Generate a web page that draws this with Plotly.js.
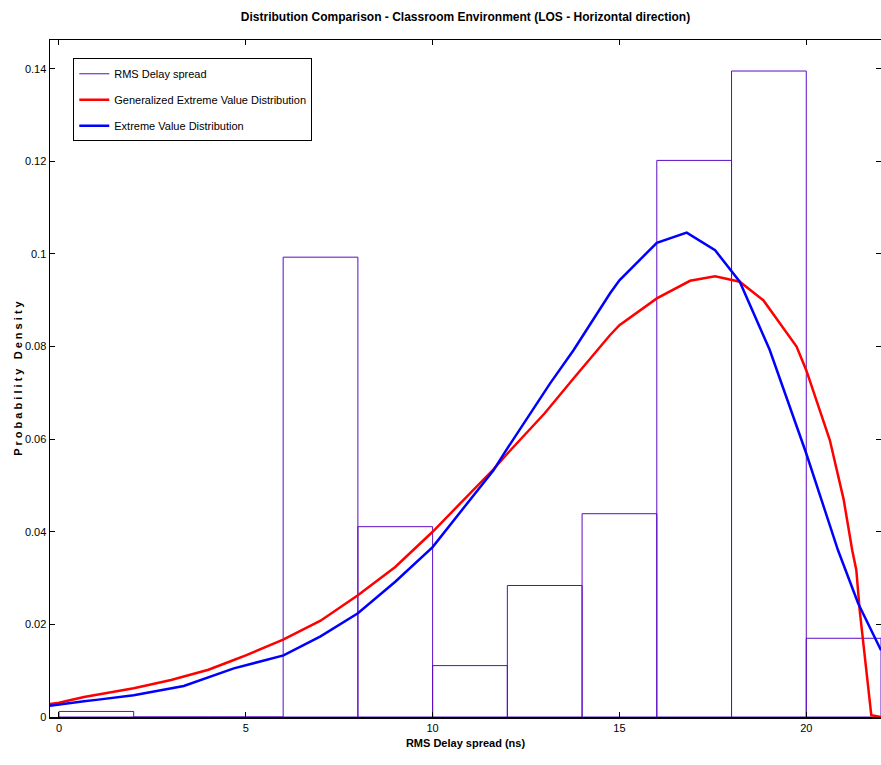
<!DOCTYPE html>
<html>
<head>
<meta charset="utf-8">
<script src="https://cdn.plot.ly/plotly-3.0.1.min.js"></script>
<style>html,body{margin:0;padding:0;background:#fff;}#chart{width:881px;height:765px;}</style>
</head>
<body>
<div id="chart"></div>
<script>
// Histogram bins (centres) and densities
const binCenters = [1, 3, 5, 7, 9, 11, 13, 15, 17, 19, 21];
const binDensity = [0.0012, 0, 0, 0.0993, 0.0411, 0.0111, 0.0284, 0.0439, 0.1202, 0.1395, 0.0170];

// Generalized Extreme Value fit
const gevX = [-0.25, 0, 0.67, 1, 2, 3, 3.34, 4, 4.68, 5, 6, 6.46, 7, 8, 9, 10, 11, 11.63, 12.07, 12.61, 13, 13.77, 14.75, 15, 16, 16.89, 17.56, 18.22, 18.85, 19.74, 20, 20.63, 21, 21.23, 21.34, 21.43, 21.74, 22];
const gevY = [0.0028, 0.0031, 0.0043, 0.0048, 0.0062, 0.0080, 0.0087, 0.0102, 0.0123, 0.0133, 0.0167, 0.0186, 0.0208, 0.0263, 0.0324, 0.0400, 0.0482, 0.0535, 0.0575, 0.0623, 0.0656, 0.0731, 0.0825, 0.0846, 0.0904, 0.0942, 0.0952, 0.0940, 0.0900, 0.0800, 0.0749, 0.0598, 0.0470, 0.0360, 0.0317, 0.0230, 0.0004, 0.0];

// Extreme Value fit
const evX = [-0.25, 0, 0.67, 1, 2, 3.34, 4, 4.68, 6.01, 6.46, 7, 8, 9, 10, 11, 11.63, 12, 12.61, 13.14, 13.77, 14.75, 15, 16, 16.8, 17.56, 18.22, 19.02, 20, 20.85, 21.39, 22];
const evY = [0.0024, 0.0027, 0.0034, 0.0037, 0.0047, 0.0067, 0.0085, 0.0105, 0.0133, 0.0151, 0.0174, 0.0224, 0.0292, 0.0367, 0.0468, 0.0533, 0.0580, 0.0654, 0.0720, 0.0792, 0.0915, 0.0943, 0.1024, 0.1046, 0.1008, 0.0940, 0.0793, 0.0569, 0.0360, 0.0245, 0.0144];

const xTicks = [0, 5, 10, 15, 20];
const yTicks = [0, 0.02, 0.04, 0.06, 0.08, 0.1, 0.12, 0.14];
const yTickText = ['0', '0.02', '0.04', '0.06', '0.08', '0.1', '0.12', '0.14'];

const FONT = 'Liberation Sans Narrow, Arial Narrow, Liberation Sans, Arial, sans-serif';
const PURPLE = 'rgb(92,12,196)';

const traces = [
  {
    type: 'bar', x: binCenters, y: binDensity, width: 2,
    marker: {color: 'rgba(255,255,255,0)', line: {color: PURPLE, width: 1}},
    showlegend: false, hoverinfo: 'skip'
  },
  {
    type: 'scatter', mode: 'lines', x: [null], y: [null], legendgroup: 'a',
    name: 'RMS Delay spread', line: {color: PURPLE, width: 1}
  },
  {
    type: 'scatter', mode: 'lines', x: gevX, y: gevY, legendgroup: 'b',
    name: 'Generalized Extreme Value Distribution', line: {color: 'rgb(255,0,0)', width: 2.5}
  },
  {
    type: 'scatter', mode: 'lines', x: evX, y: evY, legendgroup: 'c',
    name: 'Extreme Value Distribution', line: {color: 'rgb(0,0,255)', width: 2.5}
  }
];

const layout = {
  width: 881, height: 765,
  margin: {l: 50, r: 0, t: 40, b: 48},
  paper_bgcolor: '#fff', plot_bgcolor: '#fff',
  font: {family: FONT, size: 11, color: '#000'},
  title: {text: '<b>Distribution Comparison - Classroom Environment (LOS - Horizontal direction)</b>',
          x: 0.5, xref: 'paper', y: 0.978, yref: 'container', yanchor: 'middle',
          font: {family: FONT, size: 12, color: '#000'}},
  bargap: 0,
  xaxis: {
    range: [-0.24, 22], tickvals: xTicks, ticks: 'inside', ticklen: 5, tickcolor: '#000',
    showline: true, linecolor: '#000', linewidth: 1.5, mirror: 'ticks',
    showgrid: false, zeroline: false,
    tickfont: {family: FONT, size: 11},
    title: {text: '<b>RMS Delay spread (ns)</b>', font: {family: FONT, size: 11}, standoff: 6}
  },
  yaxis: {
    range: [0, 0.1462], tickvals: yTicks, ticktext: yTickText, ticks: 'inside', ticklen: 5, tickcolor: '#000',
    showline: true, linecolor: '#000', linewidth: 1.5, mirror: 'ticks',
    showgrid: false, zeroline: false,
    tickfont: {family: FONT, size: 11},
    title: {text: '<b>P r o b a b i l i t y   D e n s i t y</b>', font: {family: FONT, size: 11}, standoff: 0}
  },
  legend: {
    x: 0.028, y: 0.973, xanchor: 'left', yanchor: 'top',
    bgcolor: '#fff', bordercolor: '#000', borderwidth: 1,
    tracegroupgap: 7,
    font: {family: FONT, size: 11}
  },
  showlegend: true
};

Plotly.newPlot('chart', traces, layout, {displayModeBar: false, staticPlot: true});
</script>
</body>
</html>
